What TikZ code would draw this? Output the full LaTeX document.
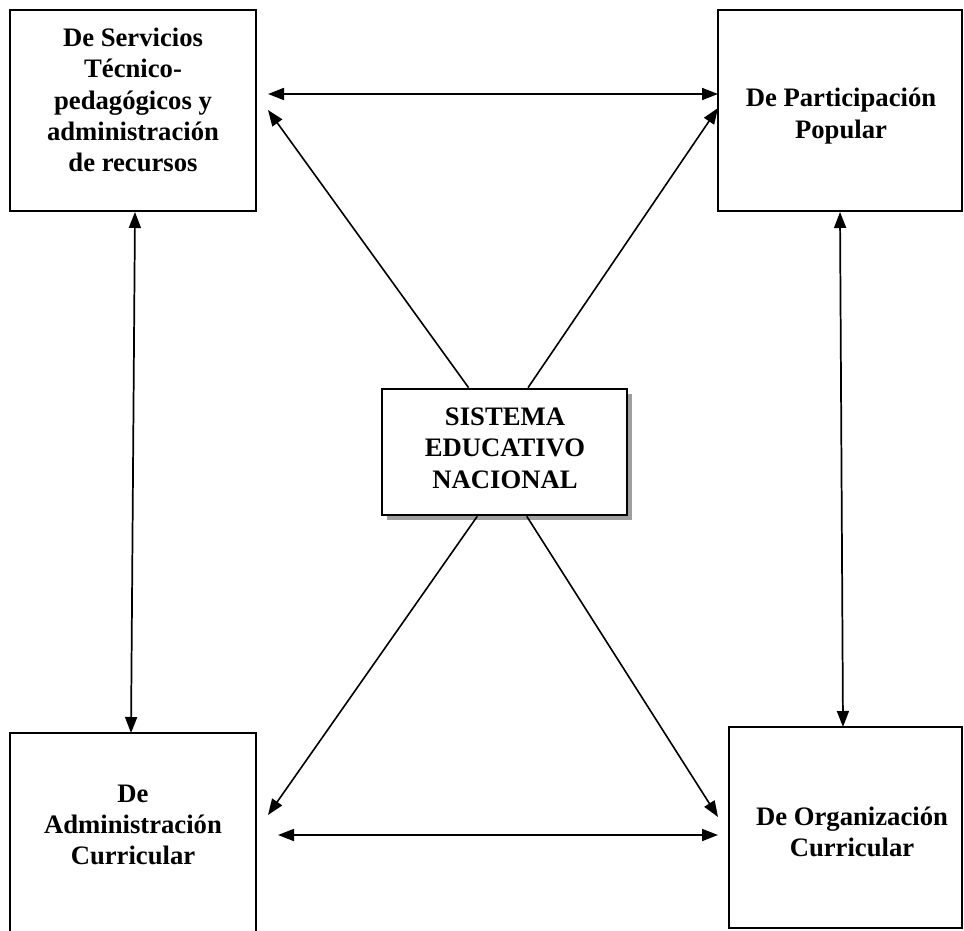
\documentclass[tikz,border=0pt]{standalone}
\usepackage{fontspec}
\setmainfont{Liberation Serif}
\usetikzlibrary{arrows.meta,calc,fit,shadows}
\begin{document}
\begin{tikzpicture}[x=0.75pt,y=-0.75pt,
  box/.style={draw,line width=2pt,fill=white,inner sep=0pt},
  lbl/.style={font=\fontsize{20}{23.5}\selectfont\bfseries,align=center,inner sep=0pt},
  arr/.style={line width=1.2pt,-{Triangle[length=12pt,width=9pt]}},
  darr/.style={line width=1.3pt,{Triangle[length=12pt,width=9pt]}-{Triangle[length=12pt,width=9pt]}}]
\useasboundingbox (0,0) rectangle (964,931);
\clip (0,0) rectangle (964,931);
% boxes
\node[box,fit={(10,10)(256,211)}] (tl) {};
\node[box,fit={(718,10)(962,211)}] (tr) {};
\node[box,fit={(10,733)(256,960)}] (bl) {};
\node[box,fit={(729,727)(962,928)}] (br) {};
\node[box,fit={(382,389)(627,515)},drop shadow={shadow xshift=3.5pt,shadow yshift=-3.5pt,fill=gray!75,opacity=1}] (c) {};
% labels
\node[lbl] (ttl) at (133,100) {De Servicios\\Técnico-\\pedagógicos y\\administración\\de recursos};
\node[lbl] (ttr) at (841,116) {De Participación\\Popular};
\node[lbl] (tbl) at (133,825) {De\\Administración\\Curricular};
\node[lbl] (tbr) at (852,832) {De Organización\\Curricular};
\node[lbl] (tc) at (505,448) {SISTEMA\\EDUCATIVO\\NACIONAL};
% free ends
\coordinate (h1) at (268,94);
\coordinate (h2) at (718,94);
\coordinate (h3) at (278,835);
\coordinate (h4) at (718,835);
\coordinate (d1) at (268,110);
\coordinate (d2) at (718,108);
\coordinate (d3) at (268,815);
\coordinate (d4) at (718,817);
\coordinate (v1) at (135,212);
\coordinate (v2) at (131,733);
\coordinate (v3) at (840,212);
\coordinate (v4) at (843,727);
% connectors
\draw[darr] (h1) -- (h2);
\draw[darr] (h3) -- (h4);
\draw[darr] (v1) -- (v2);
\draw[darr] (v3) -- (v4);
\draw[arr] ($(c.north west)!0.355!(c.north east)$) -- (d1);
\draw[arr] ($(c.north west)!0.595!(c.north east)$) -- (d2);
\draw[arr] ($(c.south west)!0.39!(c.south east)$) -- (d3);
\draw[arr] ($(c.south west)!0.59!(c.south east)$) -- (d4);
\end{tikzpicture}
\end{document}
